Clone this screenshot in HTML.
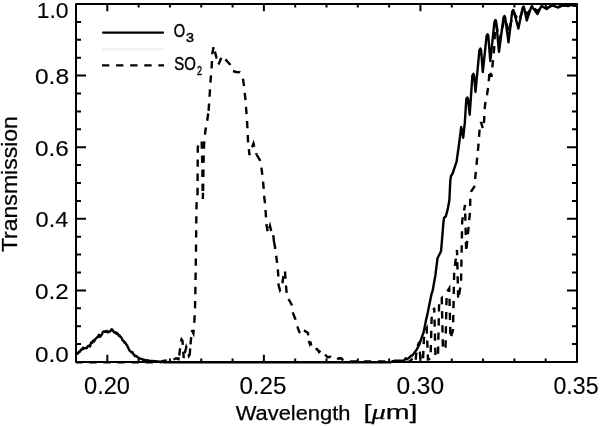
<!DOCTYPE html>
<html><head><meta charset="utf-8"><style>
html,body{margin:0;padding:0;background:#fff;}
svg{display:block;}
text{font-family:"Liberation Sans",Arial,sans-serif;fill:#000;stroke:#000;}
</style></head><body>
<svg width="600" height="426" viewBox="0 0 600 426">
<rect width="600" height="426" fill="#fff"/>
<g fill="none" stroke="#000" stroke-linejoin="round" stroke-width="2.4">
<polyline points="76.50,353.68 77.30,353.21 78.10,353.55 78.90,351.82 79.70,351.77 80.50,350.56 81.30,349.47 82.10,349.66 82.90,347.62 83.70,348.81 84.50,348.26 85.30,348.03 86.10,348.18 86.90,348.15 87.70,346.22 88.50,346.00 89.30,345.56 90.10,346.52 90.90,342.94 91.70,341.96 92.50,342.61 93.30,340.48 94.10,341.41 94.90,339.82 95.70,338.76 96.50,337.90 97.30,337.37 98.10,336.43 98.90,334.76 99.70,336.95 100.50,336.25 101.30,335.04 102.10,334.19 102.90,331.89 103.70,331.47 104.50,331.47 105.30,331.92 106.10,331.07 106.90,331.07 107.70,332.35 108.50,332.08 109.30,331.27 110.10,331.43 110.90,330.46 111.70,329.27 112.50,329.97 113.30,331.21 114.10,332.48 114.90,332.61 115.70,332.22 116.50,333.86 117.30,333.11 118.10,334.45 118.90,335.86 119.70,335.57 120.50,337.11 121.30,337.30 122.10,339.42 122.90,340.51 123.70,341.09 124.50,342.56 125.30,342.54 126.10,344.23 126.90,345.04 127.70,346.78 128.50,348.42 129.30,350.07 130.10,351.22 130.90,351.33 131.70,352.50 132.50,352.21 133.30,354.16 134.10,354.74 134.90,356.01 135.70,355.95 136.50,356.24 137.30,356.88 138.10,357.64 138.90,357.84 139.70,358.46 140.50,358.60 141.30,358.89 142.10,359.16 142.90,359.76 143.70,359.55 144.50,359.80 145.30,360.06 146.10,360.52 146.90,360.23 147.70,360.47 148.50,360.53 149.30,360.73 155.00,361.30 160.00,361.80 165.00,362.30 390.00,362.30 395.00,360.60 400.00,360.80 404.00,360.40 405.70,358.30 407.00,359.00 408.50,358.20 410.50,356.50 411.50,355.40 412.50,355.50 414.00,353.00 416.50,350.00 419.00,345.00 420.50,341.00 422.00,336.70 423.50,332.70 424.70,327.00 426.00,320.10 427.50,313.90 429.00,306.20 430.30,300.00 431.50,294.00 432.50,291.40 433.50,286.00 435.40,275.20 437.50,258.30 438.90,255.50 441.00,251.30 442.00,240.00 443.20,225.00 444.00,218.00 445.80,216.40 447.70,209.40 449.40,200.00 450.30,180.50 451.00,176.00 452.60,173.50 455.00,166.40 456.60,161.70 457.50,155.00 459.00,144.30 461.20,127.00 462.30,132.00 463.20,137.70 464.80,122.90 466.30,99.00 467.30,97.40 468.00,99.00 469.70,114.70 472.40,75.40 473.40,73.80 474.10,75.40 475.50,92.00 479.40,50.20 480.40,48.60 481.10,50.20 482.80,72.00 486.60,35.80 487.60,34.20 488.30,35.80 490.30,61.00 494.50,21.60 495.50,20.00 496.20,21.60 499.00,51.80 503.50,17.60 504.50,16.00 505.20,17.60 508.50,42.30 512.20,11.60 513.20,10.00 513.90,11.60 518.40,28.50 522.50,8.20 523.50,6.60 524.20,8.20 526.80,20.50 531.00,7.60 532.00,6.00 532.70,7.60 537.50,14.00 541.00,6.78 542.00,5.50 542.70,6.78 546.70,9.00 551.00,5.60 552.00,5.00 552.70,5.60 558.30,7.50 562.00,5.38 563.00,5.00 563.70,5.38 568.00,6.00 571.00,5.15 572.00,5.00 572.70,5.15 577.00,5.00"/>
<polyline points="76.00,362.30 160.00,362.30 163.00,361.00 167.00,360.50 171.00,360.00 173.50,359.50" stroke-dasharray="7.3 6.8" stroke-dashoffset="0.82" stroke-linejoin="miter"/><polyline points="173.50,359.50 176.00,358.30 178.50,359.20 179.20,355.50" stroke-dasharray="7.3 6.8" stroke-dashoffset="0.00" stroke-linejoin="miter"/><polyline points="179.20,355.50 180.00,349.00 181.00,341.00" stroke-dasharray="7.3 6.8" stroke-dashoffset="0.00" stroke-linejoin="miter"/><polyline points="181.00,341.00 181.50,339.50 182.50,341.00 183.30,351.80" stroke-dasharray="7.3 6.8" stroke-dashoffset="0.00" stroke-linejoin="miter"/><polyline points="183.30,351.80 183.70,358.00 184.80,353.30" stroke-dasharray="7.3 6.8" stroke-dashoffset="0.00" stroke-linejoin="miter"/><polyline points="184.80,353.30 186.30,347.00 187.50,350.00 189.00,356.00 189.30,355.60" stroke-dasharray="7.3 6.8" stroke-dashoffset="0.00" stroke-linejoin="miter"/><polyline points="189.30,355.60 189.80,353.50 190.50,344.30" stroke-dasharray="7.3 6.8" stroke-dashoffset="0.00" stroke-linejoin="miter"/><polyline points="190.50,344.30 191.30,336.00 191.60,330.00" stroke-dasharray="7.3 6.8" stroke-dashoffset="0.00" stroke-linejoin="miter"/><polyline points="191.60,330.00 193.40,333.30 194.30,322.50" stroke-dasharray="7.3 6.8" stroke-dashoffset="0.00" stroke-linejoin="miter"/><polyline points="194.30,322.50 195.00,308.30" stroke-dasharray="7.3 6.8" stroke-dashoffset="0.00" stroke-linejoin="miter"/><polyline points="195.00,308.30 195.30,294.00" stroke-dasharray="7.3 6.8" stroke-dashoffset="0.00" stroke-linejoin="miter"/><polyline points="195.30,294.00 196.00,250.00 196.40,209.40" stroke-dasharray="7.3 6.8" stroke-dashoffset="0.00" stroke-linejoin="miter"/><polyline points="196.40,209.40 196.80,200.00 197.50,195.00" stroke-dasharray="7.3 6.8" stroke-dashoffset="0.00" stroke-linejoin="miter"/><polyline points="197.50,195.00 197.80,147.00 199.50,143.00 201.70,141.50" stroke-dasharray="7.3 6.8" stroke-dashoffset="0.00" stroke-linejoin="miter"/><polyline points="201.70,141.50 202.30,165.00 202.80,199.00 203.10,191.00" stroke-dasharray="7.3 6.8" stroke-dashoffset="0.00" stroke-linejoin="miter"/><polyline points="203.10,191.00 203.50,165.00 203.90,148.50 204.50,138.00 205.50,130.00 207.00,122.00 208.60,110.80" stroke-dasharray="7.3 6.8" stroke-dashoffset="0.00" stroke-linejoin="miter"/><polyline points="208.60,110.80 210.70,79.00 211.60,68.30" stroke-dasharray="7.3 6.8" stroke-dashoffset="0.00" stroke-linejoin="miter"/><polyline points="211.60,68.30 212.30,53.80 213.40,47.90 214.00,46.00 214.90,51.50" stroke-dasharray="7.3 6.8" stroke-dashoffset="0.00" stroke-linejoin="miter"/><polyline points="214.90,51.50 216.50,57.80 218.50,64.50" stroke-dasharray="7.3 6.8" stroke-dashoffset="0.00" stroke-linejoin="miter"/><polyline points="218.50,64.50 221.10,58.40 222.50,56.50 225.40,59.40" stroke-dasharray="7.3 6.8" stroke-dashoffset="0.00" stroke-linejoin="miter"/><polyline points="225.40,59.40 230.00,64.50 233.00,71.00" stroke-dasharray="7.3 6.8" stroke-dashoffset="0.00" stroke-linejoin="miter"/><polyline points="233.00,71.00 236.00,72.00 239.80,72.30 241.00,74.00 243.00,78.90" stroke-dasharray="7.3 6.8" stroke-dashoffset="0.00" stroke-linejoin="miter"/><polyline points="243.00,78.90 244.00,86.00 244.70,92.90" stroke-dasharray="7.3 6.8" stroke-dashoffset="0.00" stroke-linejoin="miter"/><polyline points="244.70,92.90 245.50,100.00 246.00,107.00 247.00,120.00 247.50,130.00 247.80,135.00" stroke-dasharray="7.3 6.8" stroke-dashoffset="0.00" stroke-linejoin="miter"/><polyline points="247.80,135.00 248.00,141.00 249.50,155.00 251.00,150.00 253.50,143.50 255.00,150.00 256.60,154.70" stroke-dasharray="7.3 6.8" stroke-dashoffset="0.00" stroke-linejoin="miter"/><polyline points="256.60,154.70 260.40,161.00 262.00,172.00 263.50,186.00 264.10,196.00" stroke-dasharray="7.3 6.8" stroke-dashoffset="0.00" stroke-linejoin="miter"/><polyline points="264.10,196.00 265.00,203.00 266.00,217.00 266.50,225.00 268.00,233.00 270.00,226.00 272.00,234.00 273.00,233.00 274.00,241.80" stroke-dasharray="7.3 6.8" stroke-dashoffset="0.00" stroke-linejoin="miter"/><polyline points="274.00,241.80 275.00,247.00 277.00,262.00 277.80,269.30" stroke-dasharray="7.3 6.8" stroke-dashoffset="0.00" stroke-linejoin="miter"/><polyline points="277.80,269.30 278.30,276.00 278.50,285.00 280.00,290.00 282.00,286.00 284.00,272.00 285.00,270.50 285.50,280.00 287.00,297.00 289.70,301.00 291.80,305.00 292.90,312.90" stroke-dasharray="7.3 6.8" stroke-dashoffset="0.00" stroke-linejoin="miter"/><polyline points="292.90,312.90 295.30,319.00 297.20,326.00 299.30,332.00 301.00,334.00 303.00,335.00 305.00,331.00 308.00,333.00 308.80,340.80" stroke-dasharray="7.3 6.8" stroke-dashoffset="0.00" stroke-linejoin="miter"/><polyline points="308.80,340.80 310.00,344.50 310.80,343.50 312.00,348.50 313.50,349.50 317.20,349.00 319.00,352.00 320.50,350.50 322.20,353.50 325.10,354.40" stroke-dasharray="7.3 6.8" stroke-dashoffset="0.00" stroke-linejoin="miter"/><polyline points="325.10,354.40 327.50,357.30 330.80,356.80 333.00,358.50 336.60,359.50 339.00,358.30 341.50,358.50 343.70,361.00 350.00,361.50 400.00,361.50 405.00,361.50 408.00,362.00 409.20,361.58 411.75,359.46 412.95,362.00 415.50,362.00 416.70,348.25 419.25,341.88 420.45,360.91 423.00,360.40 424.20,333.28 426.75,328.50 427.95,359.41 430.50,358.83 431.70,316.33 434.25,307.83 435.45,357.18 438.00,355.00 439.20,299.71 441.75,297.89 442.95,350.05 445.50,346.88 446.70,292.38 449.25,288.25 450.45,338.50 453.00,330.00 454.20,271.20 457.00,250.00 458.20,299.53 461.00,283.67 462.20,220.87 465.00,205.00 466.20,252.00 470.00,212.00 470.30,198.00 471.30,191.30 475.00,185.60 475.30,177.00 476.50,165.00 477.50,155.00 478.30,146.70 479.00,137.00 479.60,129.50 481.00,122.00 483.00,129.00 484.20,120.00 484.50,110.00 485.50,101.50 487.00,95.00 488.50,85.00 489.60,70.00 491.50,77.00 493.00,60.00 494.50,45.00 495.00,26.60 496.00,25.00 496.70,26.60 499.50,40.00 504.00,20.60 505.00,19.00 505.70,20.60 508.80,32.00 513.00,14.10 514.00,12.50 514.70,14.10 518.60,21.00 523.00,10.10 524.00,8.50 524.70,10.10 527.00,14.00 531.50,8.05 532.50,7.00 533.20,8.05 537.70,11.00 541.50,6.75 542.50,6.00 543.20,6.75 546.80,8.00 551.50,5.88 552.50,5.50 553.20,5.88 558.50,7.00 562.50,5.55 563.50,5.30 564.20,5.55 568.00,6.00 577.00,5.50" stroke-dasharray="7.3 6.8" stroke-dashoffset="0.00" stroke-linejoin="miter"/>
</g>
<path d="M76.00,362v-3.6M76.00,4v3.6M107.31,362v-7.2M107.31,4v7.2M138.62,362v-3.6M138.62,4v3.6M169.94,362v-3.6M169.94,4v3.6M201.25,362v-3.6M201.25,4v3.6M232.56,362v-3.6M232.56,4v3.6M263.88,362v-7.2M263.88,4v7.2M295.19,362v-3.6M295.19,4v3.6M326.50,362v-3.6M326.50,4v3.6M357.81,362v-3.6M357.81,4v3.6M389.13,362v-3.6M389.13,4v3.6M420.44,362v-7.2M420.44,4v7.2M451.75,362v-3.6M451.75,4v3.6M483.06,362v-3.6M483.06,4v3.6M514.38,362v-3.6M514.38,4v3.6M545.69,362v-3.6M545.69,4v3.6M577.00,362v-7.2M577.00,4v7.2M76,362.00h10M577,362.00h-10M76,344.10h5M577,344.10h-5M76,326.20h5M577,326.20h-5M76,308.30h5M577,308.30h-5M76,290.40h10M577,290.40h-10M76,272.50h5M577,272.50h-5M76,254.60h5M577,254.60h-5M76,236.70h5M577,236.70h-5M76,218.80h10M577,218.80h-10M76,200.90h5M577,200.90h-5M76,183.00h5M577,183.00h-5M76,165.10h5M577,165.10h-5M76,147.20h10M577,147.20h-10M76,129.30h5M577,129.30h-5M76,111.40h5M577,111.40h-5M76,93.50h5M577,93.50h-5M76,75.60h10M577,75.60h-10M76,57.70h5M577,57.70h-5M76,39.80h5M577,39.80h-5M76,21.90h5M577,21.90h-5M76,4.00h10M577,4.00h-10" stroke="#000" stroke-width="2" fill="none"/>
<rect x="76" y="4" width="501" height="358" fill="none" stroke="#000" stroke-width="2" stroke-linejoin="round"/>
<text x="68.550" y="18.150" font-size="22.950" textLength="31.900" lengthAdjust="spacingAndGlyphs" text-anchor="end" stroke-width="0.12">1.0</text><text x="69.000" y="84.000" font-size="22.950" textLength="34.000" lengthAdjust="spacingAndGlyphs" text-anchor="end" stroke-width="0.12">0.8</text><text x="68.900" y="156.100" font-size="22.950" textLength="33.800" lengthAdjust="spacingAndGlyphs" text-anchor="end" stroke-width="0.12">0.6</text><text x="68.400" y="226.750" font-size="22.950" textLength="32.800" lengthAdjust="spacingAndGlyphs" text-anchor="end" stroke-width="0.12">0.4</text><text x="68.900" y="299.300" font-size="22.950" textLength="33.800" lengthAdjust="spacingAndGlyphs" text-anchor="end" stroke-width="0.12">0.2</text><text x="68.900" y="362.200" font-size="22.950" textLength="33.800" lengthAdjust="spacingAndGlyphs" text-anchor="end" stroke-width="0.12">0.0</text><text x="107.000" y="393.900" font-size="23.300" textLength="46.000" lengthAdjust="spacingAndGlyphs" text-anchor="middle" stroke-width="0.12">0.20</text><text x="262.950" y="393.900" font-size="23.300" textLength="47.100" lengthAdjust="spacingAndGlyphs" text-anchor="middle" stroke-width="0.12">0.25</text><text x="420.300" y="393.900" font-size="23.300" textLength="47.800" lengthAdjust="spacingAndGlyphs" text-anchor="middle" stroke-width="0.12">0.30</text><text x="576.000" y="393.900" font-size="23.300" textLength="45.000" lengthAdjust="spacingAndGlyphs" text-anchor="middle" stroke-width="0.12">0.35</text><text x="173.750" y="37.300" font-size="18.600" textLength="11.400" lengthAdjust="spacingAndGlyphs" text-anchor="start" stroke-width="0.45">O</text><text x="186.000" y="41.550" font-size="13.000" textLength="8.000" lengthAdjust="spacingAndGlyphs" text-anchor="start" stroke-width="0.45">3</text><text x="174.300" y="70.250" font-size="18.600" textLength="21.600" lengthAdjust="spacingAndGlyphs" text-anchor="start" stroke-width="0.45">SO</text><text x="197.100" y="74.950" font-size="13.000" textLength="5.000" lengthAdjust="spacingAndGlyphs" text-anchor="start" stroke-width="0.45">2</text><text x="293.100" y="419.900" font-size="19.957" textLength="114.800" lengthAdjust="spacingAndGlyphs" text-anchor="middle" stroke-width="0.25">Wavelength</text><text x="390.500" y="418.600" font-size="21.000" textLength="54.000" lengthAdjust="spacingAndGlyphs" text-anchor="middle" stroke-width="0.25">[<tspan font-family="'Liberation Serif', serif" font-style="italic">μ</tspan>m]</text><text transform="translate(16.850,184.100) rotate(-90)" x="0" y="0" font-size="21.500" textLength="136.000" lengthAdjust="spacingAndGlyphs" text-anchor="middle" stroke-width="0.25">Transmission</text>

<line x1="103" y1="32.6" x2="163" y2="32.6" stroke="#000" stroke-width="2.3" stroke-linecap="round"/>
<line x1="102" y1="49.2" x2="164" y2="49.2" stroke="#f1f1f1" stroke-width="2.5"/>
<line x1="102" y1="65.4" x2="164" y2="65.4" stroke="#000" stroke-width="2.4" stroke-dasharray="7.3 6.8"/>

</svg>
</body></html>
